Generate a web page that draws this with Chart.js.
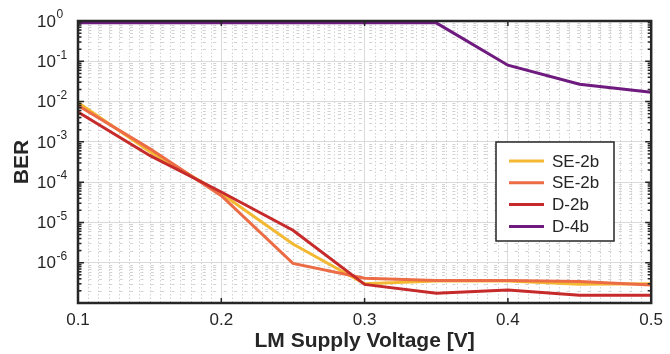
<!DOCTYPE html>
<html>
<head>
<meta charset="utf-8">
<script src="https://cdn.jsdelivr.net/npm/chart.js@4"></script>
<style>
  html, body { margin: 0; padding: 0; background: #fff; }
  #wrap { width: 670px; height: 354px; }
</style>
</head>
<body>
<div id="wrap"><canvas id="chart" width="670" height="354"></canvas></div>
<script>
// data
const voltages = [0.1, 0.15, 0.2, 0.25, 0.3, 0.35, 0.4, 0.45, 0.5];
const seriesNames = ['SE-2b', 'SE-2b', 'D-2b', 'D-4b'];
const se2bA = [9.5e-3, 5.8e-4, 5.2e-5, 2.9e-6, 3.0e-7, 3.5e-7, 3.5e-7, 2.9e-7, 3.0e-7];
const se2bB = [8.0e-3, 6.8e-4, 4.6e-5, 9.6e-7, 4.1e-7, 3.6e-7, 3.6e-7, 3.4e-7, 2.8e-7];
const d2b = [5.5e-3, 4.6e-4, 5.7e-5, 6.4e-6, 2.9e-7, 1.75e-7, 2.1e-7, 1.55e-7, 1.55e-7];
const d4b = [0.9, 0.9, 0.9, 0.9, 0.9, 0.9, 0.08, 0.027, 0.017];
const seriesColors = ['#f4b932', '#ec6c45', '#c62a2b', '#6e1a7e'];

const xTicks = [0.1, 0.2, 0.3, 0.4, 0.5];
const yExponents = [0, -1, -2, -3, -4, -5, -6];

const ink = '#262626';
const font = '"Liberation Sans", Arial, Helvetica, sans-serif';

const toPoints = (vals) => vals.map((v, i) => ({ x: voltages[i], y: v }));

// minor grid, frame, inward ticks, y labels and the legend
const decorPlugin = {
    id: 'decor',
    beforeDatasetsDraw(chart) {
        const { ctx, chartArea: a, scales: { x, y } } = chart;
        ctx.save();
        ctx.strokeStyle = '#d2d2d2';
        ctx.lineWidth = 1;
        // vertical minor grid
        ctx.setLineDash([1.5, 2]);
        for (let i = 0; i < xTicks.length - 1; i++) {
            for (let k = 1; k < 14; k++) {
                const px = Math.round(x.getPixelForValue(xTicks[i] + k * 0.1 / 14)) + 0.5;
                ctx.beginPath();
                ctx.moveTo(px, a.top);
                ctx.lineTo(px, a.bottom);
                ctx.stroke();
            }
        }
        // horizontal minor grid
        ctx.setLineDash([3, 7.4]);
        for (let e = -7; e < 0; e++) {
            for (let m = 2; m <= 9; m++) {
                const py = Math.round(y.getPixelForValue(m * Math.pow(10, e))) + 0.5;
                ctx.beginPath();
                ctx.moveTo(a.left, py);
                ctx.lineTo(a.right, py);
                ctx.stroke();
            }
        }
        ctx.restore();
    },
    afterDatasetsDraw(chart) {
        const { ctx, chartArea: a, scales: { x, y } } = chart;
        ctx.save();
        ctx.strokeStyle = ink;
        ctx.lineWidth = 1.5;
        // y ticks, both sides
        for (let e = -7; e <= 0; e++) {
            for (let m = 1; m <= 9; m++) {
                const v = m * Math.pow(10, e);
                if (v > 1) break;
                const py = y.getPixelForValue(v);
                const len = m === 1 ? 6 : 3.5;
                ctx.beginPath();
                ctx.moveTo(a.left, py); ctx.lineTo(a.left + len, py);
                ctx.moveTo(a.right, py); ctx.lineTo(a.right - len, py);
                ctx.stroke();
            }
        }
        // x ticks, bottom and top
        xTicks.forEach(v => {
            const px = x.getPixelForValue(v);
            ctx.beginPath();
            ctx.moveTo(px, a.bottom); ctx.lineTo(px, a.bottom - 5);
            ctx.moveTo(px, a.top); ctx.lineTo(px, a.top + 5);
            ctx.stroke();
        });
        // frame
        ctx.lineWidth = 2.5;
        ctx.strokeRect(a.left, a.top, a.right - a.left, a.bottom - a.top);

        // y tick labels as 10 with superscript exponent
        ctx.fillStyle = ink;
        ctx.textBaseline = 'middle';
        ctx.textAlign = 'left';
        yExponents.forEach(e => {
            const py = y.getPixelForValue(Math.pow(10, e));
            const exp = e === 0 ? '0' : '-' + Math.abs(e);
            ctx.font = '17px ' + font;
            const bw = ctx.measureText('10').width;
            ctx.fillText('10', 37, py + 1);
            ctx.font = '12px ' + font;
            ctx.fillText(exp, 37 + bw + 0.5, py - 6);
        });

        // legend box
        const lx = 496, ly = 142, lw = 118, lh = 99;
        ctx.fillStyle = '#fff';
        ctx.fillRect(lx, ly, lw, lh);
        ctx.strokeStyle = ink;
        ctx.lineWidth = 1.5;
        ctx.strokeRect(lx, ly, lw, lh);
        chart.data.datasets.forEach((ds, i) => {
            const ry = ly + 19 + i * 21.8;
            ctx.strokeStyle = ds.borderColor;
            ctx.lineWidth = 3;
            ctx.beginPath();
            ctx.moveTo(lx + 13, ry);
            ctx.lineTo(lx + 48, ry);
            ctx.stroke();
            ctx.fillStyle = ink;
            ctx.font = '17px ' + font;
            ctx.textAlign = 'left';
            ctx.fillText(ds.label, lx + 56, ry + 1);
        });
        ctx.restore();
    }
};

const ctx = document.getElementById('chart').getContext('2d');
new Chart(ctx, {
    type: 'line',
    data: {
        datasets: [se2bA, se2bB, d2b, d4b].map((vals, i) => ({
            label: seriesNames[i],
            data: toPoints(vals),
            borderColor: seriesColors[i],
            backgroundColor: seriesColors[i],
            borderWidth: 3,
            pointRadius: 0,
            tension: 0,
            order: 4 - i
        }))
    },
    options: {
        responsive: false,
        animation: false,
        layout: { padding: { top: 21, right: 13, left: 0, bottom: 0 } },
        plugins: {
            legend: { display: false },
            tooltip: { enabled: false }
        },
        scales: {
            x: {
                type: 'linear',
                min: 0.1,
                max: 0.5,
                afterBuildTicks: (s) => { s.ticks = xTicks.map(v => ({ value: v })); },
                afterFit: (s) => { s.height = 51; },
                ticks: {
                    color: ink,
                    font: { family: font, size: 17 },
                    padding: 7,
                    maxRotation: 0,
                    callback: (v) => v.toFixed(1)
                },
                grid: { color: '#dadada', lineWidth: 1, drawTicks: false },
                border: { display: false },
                title: {
                    display: true,
                    text: 'LM Supply Voltage [V]',
                    color: ink,
                    font: { family: font, size: 21, weight: 'bold' },
                    padding: { top: 0, bottom: 0 }
                }
            },
            y: {
                type: 'logarithmic',
                min: 1e-7,
                max: 1,
                afterBuildTicks: (s) => {
                    s.ticks = [-7, ...yExponents.slice().reverse()].map(e => ({ value: Math.pow(10, e) }));
                },
                afterFit: (s) => { s.width = 78; },
                ticks: { display: false },
                grid: { color: '#dadada', lineWidth: 1, drawTicks: false },
                border: { display: false },
                title: {
                    display: true,
                    text: 'BER',
                    color: ink,
                    font: { family: font, size: 21, weight: 'bold' },
                    padding: { top: 10, bottom: 0 }
                }
            }
        }
    },
    plugins: [decorPlugin]
});
</script>
</body>
</html>
